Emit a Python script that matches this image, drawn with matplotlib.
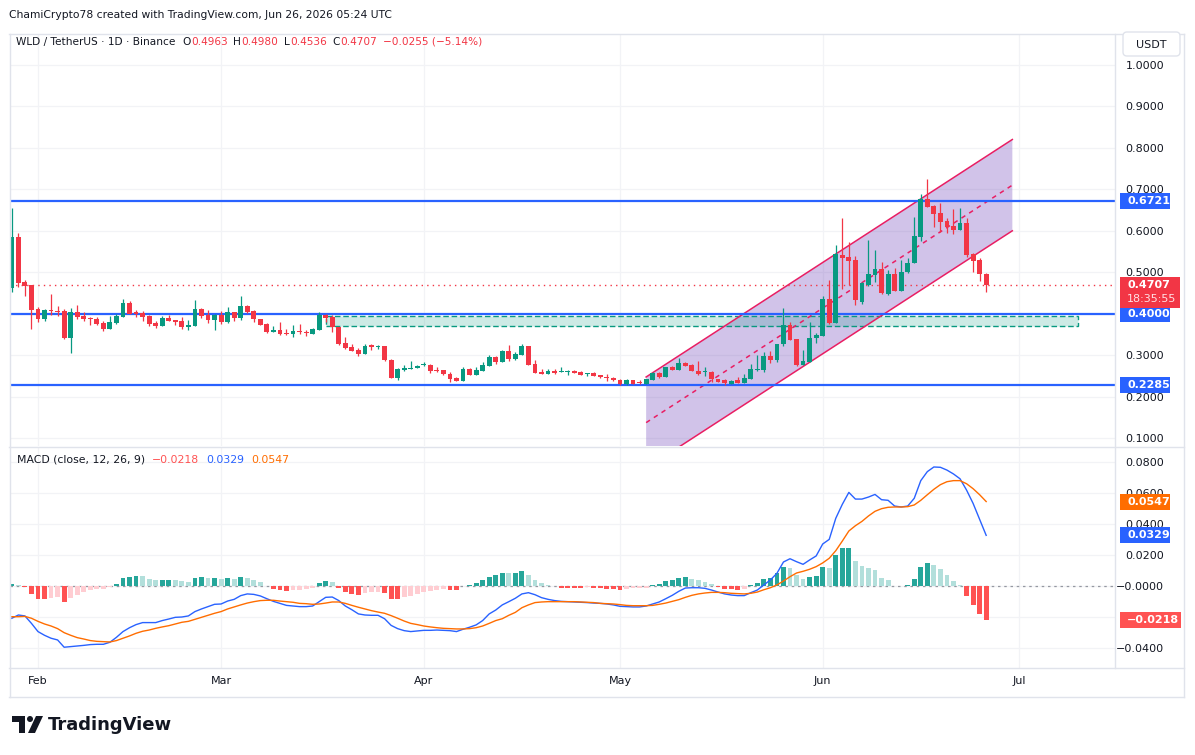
import matplotlib
matplotlib.use("Agg")
import matplotlib.pyplot as plt
import matplotlib.dates as mdates
import matplotlib.colors as mcolors
from matplotlib.patches import Rectangle, Polygon, Circle, FancyBboxPatch
from matplotlib.lines import Line2D
from matplotlib.transforms import IdentityTransform
import numpy as np
import pandas as pd

# ======================================================
# Data
# ======================================================
dates = pd.date_range("2026-01-28", "2026-06-26", freq="D")

opens = [
    0.4634, 0.5860, 0.4764, 0.4699, 0.4120, 0.3887, 0.4096, 0.4080, 0.4072, 0.3430,
    0.4048, 0.3952, 0.3896, 0.3880, 0.3791, 0.3646, 0.3791, 0.3936, 0.4272, 0.4040,
    0.4016, 0.3952, 0.3791, 0.3719, 0.3904, 0.3855, 0.3831, 0.3694, 0.3719, 0.4120,
    0.3976, 0.3855, 0.3984, 0.3807, 0.4048, 0.3912, 0.4193, 0.4072, 0.3871, 0.3759,
    0.3574, 0.3614, 0.3550, 0.3518, 0.3582, 0.3566, 0.3526, 0.3622, 0.3976, 0.3928,
    0.3679, 0.3301, 0.3205, 0.3133, 0.3043, 0.3246, 0.3197, 0.3229, 0.2892, 0.2465,
    0.2658, 0.2683, 0.2691, 0.2771, 0.2779, 0.2651, 0.2651, 0.2562, 0.2465, 0.2393,
    0.2675, 0.2530, 0.2634, 0.2747, 0.2971, 0.2851, 0.3108, 0.2908, 0.3012, 0.3229,
    0.2795, 0.2602, 0.2562, 0.2634, 0.2595, 0.2610, 0.2634, 0.2602, 0.2554, 0.2578,
    0.2530, 0.2490, 0.2465, 0.2410, 0.2306, 0.2410, 0.2345, 0.2321, 0.2410, 0.2571,
    0.2490, 0.2731, 0.2658, 0.2819, 0.2779, 0.2634, 0.2595, 0.2595, 0.2441, 0.2410,
    0.2321, 0.2410, 0.2345, 0.2441, 0.2651, 0.2651, 0.2996, 0.2892, 0.3277, 0.3735,
    0.3390, 0.2771, 0.2843, 0.3414, 0.3477, 0.4361, 0.3791, 0.5422, 0.5366, 0.5301,
    0.4280, 0.4699, 0.4940, 0.5084, 0.4482, 0.4964, 0.4562, 0.5004, 0.5222, 0.5863,
    0.6771, 0.6602, 0.6441, 0.6241, 0.6128, 0.6024, 0.6200, 0.5438, 0.5301, 0.4963,
]

highs = [
    0.6561, 0.5944, 0.4819, 0.4700, 0.4169, 0.4112, 0.4482, 0.4193, 0.4112, 0.4145,
    0.4217, 0.4048, 0.3920, 0.3928, 0.3823, 0.3952, 0.4000, 0.4369, 0.4313, 0.4096,
    0.4072, 0.3968, 0.3823, 0.3944, 0.3976, 0.3855, 0.3920, 0.3855, 0.4337, 0.4145,
    0.4096, 0.4008, 0.4064, 0.4169, 0.4048, 0.4434, 0.4217, 0.4096, 0.3880, 0.3775,
    0.3711, 0.3807, 0.3631, 0.3735, 0.3759, 0.3614, 0.3663, 0.4040, 0.4000, 0.3968,
    0.3694, 0.3446, 0.3284, 0.3181, 0.3284, 0.3270, 0.3253, 0.3237, 0.2923, 0.2692,
    0.2771, 0.2867, 0.2771, 0.2851, 0.2803, 0.2723, 0.2659, 0.2602, 0.2473, 0.2723,
    0.2691, 0.2723, 0.2836, 0.3020, 0.2988, 0.3133, 0.3253, 0.3092, 0.3277, 0.3237,
    0.2892, 0.2675, 0.2683, 0.2683, 0.2723, 0.2642, 0.2650, 0.2618, 0.2578, 0.2602,
    0.2530, 0.2562, 0.2482, 0.2426, 0.2434, 0.2418, 0.2418, 0.2442, 0.2610, 0.2602,
    0.2731, 0.2747, 0.2932, 0.2851, 0.2795, 0.2860, 0.2715, 0.2618, 0.2441, 0.2442,
    0.2402, 0.2490, 0.2554, 0.2788, 0.3012, 0.3092, 0.3108, 0.3285, 0.4152, 0.3800,
    0.3398, 0.3133, 0.3800, 0.3550, 0.4441, 0.4819, 0.5663, 0.6320, 0.5742, 0.5398,
    0.4760, 0.5783, 0.5542, 0.5245, 0.5060, 0.5100, 0.5301, 0.5342, 0.6330, 0.6892,
    0.7253, 0.6618, 0.6667, 0.6306, 0.6523, 0.6547, 0.6306, 0.5462, 0.5342, 0.4980,
]

lows = [
    0.4537, 0.4658, 0.4442, 0.3646, 0.3815, 0.3839, 0.3976, 0.3960, 0.3405, 0.3068,
    0.3880, 0.3839, 0.3735, 0.3735, 0.3590, 0.3646, 0.3767, 0.3936, 0.3992, 0.3936,
    0.3839, 0.3711, 0.3670, 0.3719, 0.3839, 0.3743, 0.3631, 0.3614, 0.3719, 0.3904,
    0.3791, 0.3622, 0.3759, 0.3791, 0.3839, 0.3864, 0.4016, 0.3815, 0.3735, 0.3542,
    0.3574, 0.3502, 0.3486, 0.3454, 0.3518, 0.3478, 0.3526, 0.3622, 0.3807, 0.3574,
    0.3260, 0.3157, 0.3101, 0.2995, 0.3043, 0.3133, 0.3157, 0.2867, 0.2457, 0.2410,
    0.2619, 0.2675, 0.2691, 0.2747, 0.2586, 0.2595, 0.2522, 0.2354, 0.2385, 0.2393,
    0.2530, 0.2522, 0.2634, 0.2747, 0.2795, 0.2851, 0.2867, 0.2892, 0.3012, 0.2779,
    0.2586, 0.2546, 0.2554, 0.2547, 0.2595, 0.2538, 0.2586, 0.2530, 0.2514, 0.2497,
    0.2458, 0.2386, 0.2390, 0.2297, 0.2297, 0.2313, 0.2321, 0.2313, 0.2402, 0.2465,
    0.2482, 0.2650, 0.2650, 0.2739, 0.2626, 0.2538, 0.2498, 0.2369, 0.2361, 0.2297,
    0.2305, 0.2345, 0.2337, 0.2441, 0.2627, 0.2595, 0.2827, 0.2851, 0.3236, 0.3373,
    0.2739, 0.2763, 0.2843, 0.3294, 0.3477, 0.3759, 0.3791, 0.4595, 0.4699, 0.4217,
    0.4250, 0.4675, 0.4779, 0.4482, 0.4458, 0.4554, 0.4554, 0.4996, 0.5222, 0.5766,
    0.6570, 0.6104, 0.5984, 0.5945, 0.5928, 0.6016, 0.5366, 0.5019, 0.4795, 0.4536,
]

closes = [
    0.5863, 0.4754, 0.4683, 0.4104, 0.3887, 0.4096, 0.4080, 0.4056, 0.3430, 0.4048,
    0.3936, 0.3871, 0.3871, 0.3767, 0.3646, 0.3807, 0.3952, 0.4272, 0.4008, 0.4008,
    0.3936, 0.3767, 0.3719, 0.3904, 0.3839, 0.3807, 0.3694, 0.3743, 0.4120, 0.3960,
    0.3855, 0.3976, 0.3815, 0.4040, 0.3912, 0.4193, 0.4040, 0.3871, 0.3743, 0.3574,
    0.3614, 0.3526, 0.3526, 0.3590, 0.3566, 0.3542, 0.3639, 0.3976, 0.3912, 0.3679,
    0.3284, 0.3188, 0.3116, 0.3043, 0.3229, 0.3205, 0.3237, 0.2892, 0.2465, 0.2667,
    0.2706, 0.2699, 0.2754, 0.2803, 0.2634, 0.2627, 0.2547, 0.2441, 0.2393, 0.2667,
    0.2538, 0.2651, 0.2779, 0.2971, 0.2851, 0.3116, 0.2908, 0.3044, 0.3229, 0.2779,
    0.2586, 0.2554, 0.2627, 0.2578, 0.2610, 0.2634, 0.2586, 0.2538, 0.2571, 0.2514,
    0.2482, 0.2465, 0.2400, 0.2306, 0.2410, 0.2321, 0.2330, 0.2434, 0.2571, 0.2490,
    0.2715, 0.2658, 0.2811, 0.2754, 0.2634, 0.2554, 0.2610, 0.2426, 0.2369, 0.2330,
    0.2386, 0.2345, 0.2465, 0.2683, 0.2675, 0.2996, 0.2892, 0.3277, 0.3735, 0.3381,
    0.2771, 0.2867, 0.3429, 0.3494, 0.4361, 0.3791, 0.5439, 0.5357, 0.5284, 0.4337,
    0.4740, 0.4964, 0.5084, 0.4498, 0.4964, 0.4562, 0.5020, 0.5237, 0.5887, 0.6764,
    0.6586, 0.6410, 0.6224, 0.6104, 0.6024, 0.6200, 0.5422, 0.5284, 0.4962, 0.4707,
]

# MACD (close, 12, 26, 9)
macd_line = [
    -0.0206, -0.0185, -0.0191, -0.0239, -0.0292, -0.0316, -0.0335, -0.0346, -0.0393, -0.0389,
    -0.0385, -0.0381, -0.0376, -0.0374, -0.0374, -0.0361, -0.0329, -0.0292, -0.0267, -0.0247,
    -0.0234, -0.0234, -0.0234, -0.0221, -0.0211, -0.0200, -0.0198, -0.0191, -0.0163, -0.0146,
    -0.0131, -0.0116, -0.0114, -0.0095, -0.0084, -0.0060, -0.0049, -0.0052, -0.0062, -0.0080,
    -0.0097, -0.0110, -0.0123, -0.0127, -0.0131, -0.0131, -0.0127, -0.0099, -0.0071, -0.0069,
    -0.0092, -0.0127, -0.0151, -0.0178, -0.0185, -0.0187, -0.0187, -0.0209, -0.0252, -0.0273,
    -0.0286, -0.0292, -0.0288, -0.0284, -0.0284, -0.0282, -0.0284, -0.0286, -0.0292, -0.0277,
    -0.0264, -0.0249, -0.0221, -0.0178, -0.0153, -0.0120, -0.0099, -0.0077, -0.0049, -0.0041,
    -0.0054, -0.0073, -0.0084, -0.0092, -0.0097, -0.0099, -0.0101, -0.0103, -0.0105, -0.0108,
    -0.0110, -0.0114, -0.0120, -0.0129, -0.0131, -0.0133, -0.0133, -0.0127, -0.0114, -0.0101,
    -0.0080, -0.0058, -0.0032, -0.0011, -0.0009, -0.0009, -0.0013, -0.0024, -0.0037, -0.0049,
    -0.0056, -0.0060, -0.0060, -0.0041, -0.0024, 0.0009, 0.0041, 0.0084, 0.0157, 0.0178,
    0.0159, 0.0142, 0.0170, 0.0196, 0.0273, 0.0303, 0.0439, 0.0529, 0.0606, 0.0563,
    0.0563, 0.0576, 0.0593, 0.0559, 0.0555, 0.0518, 0.0512, 0.0518, 0.0568, 0.0682,
    0.0740, 0.0770, 0.0768, 0.0750, 0.0725, 0.0694, 0.0621, 0.0535, 0.0432, 0.0329,
]

signal_line = [
    -0.0196, -0.0196, -0.0194, -0.0206, -0.0226, -0.0243, -0.0256, -0.0273, -0.0299, -0.0316,
    -0.0331, -0.0340, -0.0350, -0.0355, -0.0357, -0.0359, -0.0350, -0.0335, -0.0320, -0.0303,
    -0.0290, -0.0282, -0.0271, -0.0262, -0.0254, -0.0243, -0.0232, -0.0226, -0.0213, -0.0200,
    -0.0187, -0.0174, -0.0163, -0.0146, -0.0133, -0.0120, -0.0108, -0.0099, -0.0092, -0.0090,
    -0.0090, -0.0095, -0.0099, -0.0103, -0.0110, -0.0112, -0.0116, -0.0114, -0.0108, -0.0101,
    -0.0101, -0.0110, -0.0123, -0.0135, -0.0146, -0.0157, -0.0166, -0.0174, -0.0189, -0.0206,
    -0.0224, -0.0239, -0.0247, -0.0256, -0.0262, -0.0267, -0.0271, -0.0273, -0.0275, -0.0275,
    -0.0273, -0.0267, -0.0256, -0.0239, -0.0221, -0.0209, -0.0187, -0.0168, -0.0138, -0.0120,
    -0.0105, -0.0101, -0.0099, -0.0099, -0.0099, -0.0099, -0.0099, -0.0101, -0.0103, -0.0105,
    -0.0110, -0.0112, -0.0114, -0.0118, -0.0123, -0.0125, -0.0125, -0.0125, -0.0123, -0.0116,
    -0.0108, -0.0097, -0.0086, -0.0071, -0.0058, -0.0049, -0.0043, -0.0039, -0.0039, -0.0041,
    -0.0045, -0.0047, -0.0049, -0.0045, -0.0037, -0.0022, -0.0009, 0.0009, 0.0034, 0.0062,
    0.0086, 0.0097, 0.0110, 0.0127, 0.0151, 0.0181, 0.0230, 0.0292, 0.0357, 0.0391,
    0.0419, 0.0454, 0.0484, 0.0501, 0.0510, 0.0512, 0.0512, 0.0514, 0.0525, 0.0555,
    0.0591, 0.0626, 0.0656, 0.0675, 0.0682, 0.0682, 0.0662, 0.0630, 0.0591, 0.0547,
]

histogram = [
    0.0017, 0.0009, -0.0004, -0.0047, -0.0080, -0.0082, -0.0077, -0.0071, -0.0099, -0.0073,
    -0.0056, -0.0039, -0.0026, -0.0019, -0.0017, -0.0006, 0.0015, 0.0056, 0.0062, 0.0067,
    0.0065, 0.0047, 0.0039, 0.0041, 0.0043, 0.0041, 0.0034, 0.0028, 0.0054, 0.0060,
    0.0054, 0.0056, 0.0045, 0.0054, 0.0049, 0.0060, 0.0056, 0.0041, 0.0026, 0.0002,
    -0.0017, -0.0022, -0.0028, -0.0026, -0.0022, -0.0017, -0.0011, 0.0022, 0.0034, 0.0028,
    -0.0011, -0.0034, -0.0049, -0.0056, -0.0045, -0.0039, -0.0034, -0.0045, -0.0080, -0.0082,
    -0.0071, -0.0060, -0.0047, -0.0037, -0.0030, -0.0024, -0.0015, -0.0022, -0.0024, 0.0002,
    0.0009, 0.0022, 0.0041, 0.0060, 0.0073, 0.0086, 0.0084, 0.0086, 0.0099, 0.0073,
    0.0041, 0.0022, 0.0009, 0.0002, -0.0009, -0.0009, -0.0009, -0.0009, -0.0006, -0.0011,
    -0.0011, -0.0015, -0.0015, -0.0022, -0.0015, -0.0014, -0.0013, -0.0012, 0.0009, 0.0015,
    0.0034, 0.0041, 0.0054, 0.0060, 0.0047, 0.0041, 0.0028, 0.0015, -0.0004, -0.0015,
    -0.0015, -0.0022, -0.0015, 0.0009, 0.0022, 0.0047, 0.0054, 0.0086, 0.0125, 0.0118,
    0.0073, 0.0047, 0.0060, 0.0067, 0.0125, 0.0118, 0.0202, 0.0247, 0.0249, 0.0163,
    0.0131, 0.0118, 0.0105, 0.0054, 0.0041, 0.0002, 0.0002, 0.0009, 0.0047, 0.0125,
    0.0151, 0.0138, 0.0112, 0.0073, 0.0034, 0.0009, -0.0060, -0.0118, -0.0176, -0.0218,
]

# drawings
key_levels = [0.6721, 0.4000, 0.2285]
key_labels = ["0.6721", "0.4000", "0.2285"]
last_price = 0.4707
zone_dates = ["2026-03-17", "2026-07-10"]
zone_prices = [0.3703, 0.3940]
channel_dates = ["2026-05-05", "2026-06-30"]
channel_upper = [0.2482, 0.8205]
channel_lower = [0.0282, 0.6005]

# scale labels (those hidden under a coloured tag are left blank)
price_ticks = [0.1, 0.2, 0.3, 0.4, 0.5, 0.6, 0.7, 0.8, 0.9, 1.0]
price_tick_labels = ["0.1000", "0.2000", "0.3000", "", "0.5000",
                     "0.6000", "0.7000", "0.8000", "0.9000", "1.0000"]
macd_ticks = [-0.04, -0.02, 0.0, 0.02, 0.04, 0.06, 0.08]
macd_tick_labels = ["\u22120.0400", "", "\u22120.0000", "0.0200",
                    "0.0400", "0.0600", "0.0800"]
month_starts = ["2026-02-01", "2026-03-01", "2026-04-01", "2026-05-01",
                "2026-06-01", "2026-07-01"]
month_labels = ["Feb", "Mar", "Apr", "May", "Jun", "Jul"]

# ======================================================
# Styles
# ======================================================
GREEN = "#089981"
RED = "#F23645"
BLUE = "#2962FF"
ORANGE = "#FF6D00"
PINK = "#E91E63"
TEXT = "#131722"
GRID = "#F2F3F6"
BORDER = "#E0E3EB"

plt.rcParams["font.family"] = ["DejaVu Sans"]

W, H = 1195, 755
fig = plt.figure(figsize=(W / 100, H / 100), dpi=100)
fig.patch.set_facecolor("white")


def box(x0, y0, x1, y1):
    # pixel box (top-left origin) -> figure fraction rect
    return [x0 / W, 1 - y1 / H, (x1 - x0) / W, (y1 - y0) / H]


ax = fig.add_axes(box(10, 34, 1115, 446))
axm = fig.add_axes(box(10, 447, 1115, 668), sharex=ax)

x = mdates.date2num(dates)
o = np.array(opens)
h = np.array(highs)
l = np.array(lows)
c = np.array(closes)

# ======================================================
# Price pane
# ======================================================
ax.set_xlim(x[0] - 0.28, x[0] + 168.7)
ax.set_ylim(0.0819, 1.0747)

# channel
cx = mdates.date2num(pd.to_datetime(channel_dates))
chan = Polygon(
    [(cx[0], channel_upper[0]), (cx[1], channel_upper[1]),
     (cx[1], channel_lower[1]), (cx[0], channel_lower[0])],
    closed=True, facecolor=mcolors.to_rgba("#673AB7", 0.3),
    edgecolor="none", zorder=1.5,
)
ax.add_patch(chan)
ax.plot(cx, channel_upper, color=PINK, lw=1.1, zorder=2)
ax.plot(cx, channel_lower, color=PINK, lw=1.1, zorder=2)
ax.plot(cx, [(u + d) / 2 for u, d in zip(channel_upper, channel_lower)],
        color=PINK, lw=1.1, ls=(0, (3, 3)), zorder=2)

# demand zone
zx = mdates.date2num(pd.to_datetime(zone_dates))
zone = Rectangle(
    (zx[0], zone_prices[0]), zx[1] - zx[0], zone_prices[1] - zone_prices[0],
    facecolor=mcolors.to_rgba(GREEN, 0.2), edgecolor=GREEN,
    linewidth=1, linestyle=(0, (4, 2)), zorder=1.6,
)
ax.add_patch(zone)

# horizontal levels
for lvl in key_levels:
    ax.axhline(lvl, color=BLUE, lw=1.6, zorder=3)
ax.axhline(last_price, color=RED, lw=1, ls=(0, (1, 3)), zorder=3)

# candles
up = c >= o
col = np.where(up, GREEN, RED)
ax.vlines(x, l, h, colors=col, linewidth=0.9, zorder=4)
body_lo = np.minimum(o, c)
body_h = np.maximum(np.abs(c - o), 0.0022)
ax.bar(x, body_h, bottom=body_lo, width=0.74, color=col, linewidth=0, zorder=5)

ax.set_yticks(price_ticks)
ax.yaxis.tick_right()
ax.set_yticklabels(price_tick_labels, ha="right")
ax.tick_params(axis="y", length=0, pad=35.5, labelsize=8, labelcolor=TEXT)
ax.tick_params(axis="x", length=0, labelbottom=False)
ax.grid(True, color=GRID, lw=0.9)
ax.set_axisbelow(True)

# ======================================================
# MACD pane
# ======================================================
axm.set_ylim(-0.0527, 0.0899)
hcol = []
prev = None
for v in histogram:
    if v >= 0:
        hcol.append("#26A69A" if prev is None or v > prev else "#B2DFDB")
    else:
        hcol.append("#FFCDD2" if prev is not None and v > prev else "#FF5252")
    prev = v
axm.axhline(0, color="#9598A1", lw=0.9, ls=(0, (2, 3)), zorder=1)
axm.bar(x, histogram, width=0.74, color=hcol, linewidth=0, zorder=2)
axm.plot(x, macd_line, color=BLUE, lw=1.0, zorder=3)
axm.plot(x, signal_line, color=ORANGE, lw=1.0, zorder=3)

axm.set_yticks(macd_ticks)
axm.yaxis.tick_right()
axm.set_yticklabels(macd_tick_labels, ha="right")
axm.tick_params(axis="y", length=0, pad=35.5, labelsize=8, labelcolor=TEXT)
axm.set_xticks(mdates.date2num(pd.to_datetime(month_starts)))
axm.set_xticklabels(month_labels)
axm.tick_params(axis="x", length=0, pad=6, labelsize=8, labelcolor=TEXT)
axm.grid(True, color=GRID, lw=0.9)
axm.set_axisbelow(True)

for a in (ax, axm):
    for s in a.spines.values():
        s.set_visible(False)

# ======================================================
# Frame lines
# ======================================================
def hline(y, x0, x1, color=BORDER):
    fig.add_artist(Line2D([x0, x1], [H - y, H - y], transform=IdentityTransform(),
                          color=color, lw=1))


def vline(xp, y0, y1, color=BORDER):
    fig.add_artist(Line2D([xp, xp], [H - y0, H - y1], transform=IdentityTransform(),
                          color=color, lw=1))


hline(34, 9, 1184)
hline(697, 9, 1184)
hline(446.5, 9, 1184)
hline(668, 9, 1184)
vline(9.5, 34, 697)
vline(1184, 34, 697)
vline(1115, 34, 668)

# ======================================================
# Axis tags
# ======================================================
def tag(axis, level, label, face, x0=1120, x1=1170, hgt=16):
    ypix = axis.transData.transform((axis.get_xlim()[0], level))[1]
    fig.add_artist(Rectangle((x0, ypix - hgt / 2), x1 - x0, hgt,
                             transform=IdentityTransform(), facecolor=face,
                             edgecolor="none", zorder=10))
    fig.text(1127 / W, ypix / H, label, color="white", fontsize=8,
             fontweight="bold", va="center", ha="left", zorder=11)


for lvl, lab in zip(key_levels, key_labels):
    tag(ax, lvl, lab, BLUE)

# last price tag with countdown
yp = ax.transData.transform((ax.get_xlim()[0], last_price))[1]
fig.add_artist(Rectangle((1120, yp - 23), 60, 31, transform=IdentityTransform(),
                         facecolor=RED, edgecolor="none", zorder=10))
fig.text(1127 / W, yp / H, f"{last_price:.4f}", color="white", fontsize=8,
         fontweight="bold", va="center", ha="left", zorder=11)
fig.text(1127 / W, (yp - 14) / H, "18:35:55", color="#FFE0E3", fontsize=8,
         va="center", ha="left", zorder=11)

tag(axm, signal_line[-1], f"{signal_line[-1]:.4f}", ORANGE)
tag(axm, macd_line[-1], f"{macd_line[-1]:.4f}", BLUE)
tag(axm, histogram[-1], f"\u2212{abs(histogram[-1]):.4f}", "#FF5252", x1=1181)

# USDT currency box
fig.add_artist(FancyBboxPatch((1123, H - 56), 57, 24, boxstyle="round,pad=0,rounding_size=4",
                              transform=IdentityTransform(), facecolor="white",
                              edgecolor=BORDER, lw=1, zorder=12))
fig.text(1151.5 / W, 1 - 44.5 / H, "USDT", color=TEXT, fontsize=8,
         ha="center", va="center", zorder=13)

# ======================================================
# Texts
# ======================================================
fig.text(9 / W, 1 - 15 / H,
         "ChamiCrypto78 created with TradingView.com, Jun 26, 2026 05:24 UTC",
         color=TEXT, fontsize=7.75, va="center")

renderer = fig.canvas.get_renderer()


def text_row(xp, yp_, parts, size=8):
    for s, color, gap in parts:
        t = fig.text(xp / W, 1 - yp_ / H, s, color=color, fontsize=size, va="center")
        xp += t.get_window_extent(renderer=renderer).width + gap


chg = closes[-1] - closes[-2]
text_row(16, 42, [
    ("WLD / TetherUS \u00b7 1D \u00b7 Binance", TEXT, 7),
    ("O", TEXT, 0), (f"{opens[-1]:.4f}", RED, 6),
    ("H", TEXT, 0), (f"{highs[-1]:.4f}", RED, 6),
    ("L", TEXT, 0), (f"{lows[-1]:.4f}", RED, 6),
    ("C", TEXT, 0), (f"{closes[-1]:.4f}", RED, 6),
    (f"\u2212{abs(chg):.4f} (\u2212{abs(chg) / closes[-2] * 100:.2f}%)", RED, 0),
], size=7.6)

text_row(17, 460, [
    ("MACD (close, 12, 26, 9)", TEXT, 7),
    (f"\u2212{abs(histogram[-1]):.4f}", "#FF5252", 7),
    (f"{macd_line[-1]:.4f}", BLUE, 7),
    (f"{signal_line[-1]:.4f}", ORANGE, 0),
], size=7.8)

# TradingView logo
logo = "#131722"
fig.add_artist(Polygon([(12, H - 716), (25, H - 716), (25, H - 733), (19, H - 733),
                        (19, H - 722), (12, H - 722)], closed=True,
                       transform=IdentityTransform(), facecolor=logo, edgecolor="none"))
fig.add_artist(Circle((30, H - 719), 3, transform=IdentityTransform(),
                      facecolor=logo, edgecolor="none"))
fig.add_artist(Polygon([(28, H - 733), (36, H - 716), (43, H - 716), (35, H - 733)],
                       closed=True, transform=IdentityTransform(),
                       facecolor=logo, edgecolor="none"))
fig.text(48 / W, 1 - 725 / H, "TradingView", color=logo, fontsize=13,
         fontweight="bold", va="center")

fig.savefig("out.png", dpi=100)
